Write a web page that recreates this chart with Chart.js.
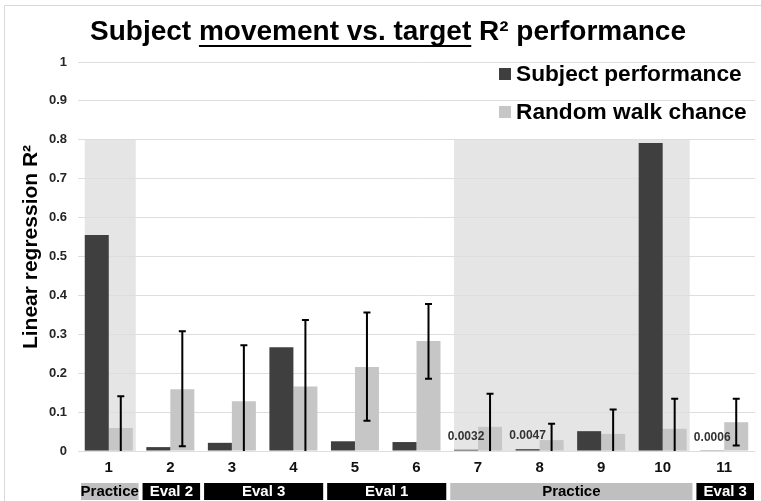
<!DOCTYPE html>
<html>
<head>
<meta charset="utf-8">
<script src="https://cdn.jsdelivr.net/npm/chart.js@4.4.1/dist/chart.umd.min.js"></script>
<style>
  html, body { margin: 0; padding: 0; background: #fff; overflow: hidden; }
</style>
</head>
<body>
<canvas id="myChart" width="761" height="501"></canvas>
<script>
// data
const categories = ['1', '2', '3', '4', '5', '6', '7', '8', '9', '10', '11'];
const subjectPerformance = [0.555, 0.010, 0.021, 0.267, 0.025, 0.023, 0.0032, 0.0047, 0.051, 0.792, 0.0006];
const randomWalkChance = [0.059, 0.159, 0.128, 0.166, 0.216, 0.283, 0.062, 0.028, 0.044, 0.057, 0.074];
const chanceUpper = [0.141, 0.308, 0.272, 0.337, 0.356, 0.378, 0.147, 0.070, 0.107, 0.134, 0.134];
const chanceLower = [-0.03, 0.012, -0.03, -0.03, 0.078, 0.186, -0.03, -0.03, -0.03, -0.03, 0.014];
const sessionNames = ['Practice', 'Eval 2', 'Eval 3', 'Eval 1', 'Practice', 'Eval 3'];
const sessionStart = [0, 1, 2, 4, 6, 10];
const sessionEnd = [0, 1, 3, 5, 9, 10];
const shadeTop = 0.8;
const yTicks = [0, 0.1, 0.2, 0.3, 0.4, 0.5, 0.6, 0.7, 0.8, 0.9, 1];

const darkColor = '#3f3f3f';
const lightColor = '#c6c6c6';
const FONT = '"Liberation Sans", Arial, sans-serif';

const extras = {
    id: 'extras',
    beforeDraw(c) {
        const { ctx, chartArea, scales: { x, y } } = c;
        ctx.save();
        // outer frame
        ctx.strokeStyle = '#d9d9d9';
        ctx.lineWidth = 1;
        ctx.strokeRect(4.5, 5.5, 900, 700);
        // shaded practice blocks
        ctx.fillStyle = '#e5e5e5';
        sessionNames.forEach((n, k) => {
            if (n !== 'Practice') return;
            const l = x.getPixelForValue(sessionStart[k]) - 24;
            const r = x.getPixelForValue(sessionEnd[k]) + 27;
            const t = y.getPixelForValue(shadeTop);
            ctx.fillRect(l, t, r - l, chartArea.bottom - t);
        });
        ctx.restore();
    },
    afterDatasetsDraw(c) {
        const { ctx, chartArea, scales: { y } } = c;
        const meta0 = c.getDatasetMeta(0);
        const meta1 = c.getDatasetMeta(1);
        ctx.save();
        ctx.beginPath();
        ctx.rect(chartArea.left, chartArea.top, chartArea.width, chartArea.height);
        ctx.clip();
        ctx.strokeStyle = '#000';
        ctx.lineWidth = 2;
        meta1.data.forEach((bar, i) => {
            const yt = y.getPixelForValue(chanceUpper[i]);
            const yb = y.getPixelForValue(chanceLower[i]);
            ctx.beginPath();
            ctx.moveTo(bar.x, yt);
            ctx.lineTo(bar.x, yb);
            ctx.moveTo(bar.x - 3.5, yt);
            ctx.lineTo(bar.x + 3.5, yt);
            ctx.moveTo(bar.x - 3.5, yb);
            ctx.lineTo(bar.x + 3.5, yb);
            ctx.stroke();
        });
        ctx.restore();
        // tiny value labels
        ctx.save();
        ctx.font = 'bold 12px ' + FONT;
        ctx.fillStyle = '#333';
        ctx.textAlign = 'center';
        ctx.textBaseline = 'middle';
        meta0.data.forEach((bar, i) => {
            if (subjectPerformance[i] < 0.005) {
                ctx.fillText(subjectPerformance[i].toFixed(4), bar.x, bar.y - 13);
            }
        });
        ctx.restore();
    },
    afterDraw(c) {
        const { ctx, scales: { x } } = c;
        ctx.save();

        // title with underlined middle part
        const parts = [
            { t: 'Subject ' },
            { t: 'movement vs. target', u: true },
            { t: ' R² performance' }
        ];
        ctx.font = 'bold 27px ' + FONT;
        ctx.fillStyle = '#000';
        ctx.textBaseline = 'alphabetic';
        ctx.textAlign = 'left';
        const widths = parts.map(p => ctx.measureText(p.t).width);
        const total = widths.reduce((a, b) => a + b, 0);
        const sx = 596 / total;
        ctx.save();
        ctx.translate(90, 0);
        ctx.scale(sx, 1);
        let px = 0;
        parts.forEach((p, k) => {
            ctx.fillText(p.t, px, 40);
            if (p.u) ctx.fillRect(px, 45, widths[k], 2);
            px += widths[k];
        });
        ctx.restore();

        // y axis title
        ctx.save();
        ctx.translate(37, 247);
        ctx.rotate(-Math.PI / 2);
        ctx.font = 'bold 21px ' + FONT;
        ctx.textAlign = 'center';
        ctx.fillText('Linear regression R²', 0, 0);
        ctx.restore();

        // legend
        ctx.font = 'bold 22.7px ' + FONT;
        ctx.textAlign = 'left';
        ctx.textBaseline = 'middle';
        c.data.datasets.forEach((ds, i) => {
            const ly = 74 + i * 38;
            ctx.fillStyle = ds.backgroundColor;
            ctx.fillRect(499, ly - 6, 12, 12);
            ctx.fillStyle = '#000';
            ctx.fillText(ds.label, 516, ly + 1);
        });

        // session boxes under the axis
        const catW = (x.right - x.left) / categories.length;
        ctx.font = 'bold 15px ' + FONT;
        ctx.textAlign = 'center';
        sessionNames.forEach((n, k) => {
            const l = x.getPixelForValue(sessionStart[k]) - catW / 2 + 3;
            const r = x.getPixelForValue(sessionEnd[k]) + catW / 2 - 1;
            const practice = n === 'Practice';
            ctx.fillStyle = practice ? '#bfbfbf' : '#000';
            ctx.fillRect(l, 483, r - l, 17);
            ctx.fillStyle = practice ? '#000' : '#fff';
            ctx.fillText(n, (l + r) / 2, 492);
        });
        ctx.restore();
    }
};

const ctx = document.getElementById('myChart').getContext('2d');

const chart = new Chart(ctx, {
    type: 'bar',
    data: {
        labels: categories,
        datasets: [
            {
                label: 'Subject performance',
                data: subjectPerformance,
                backgroundColor: darkColor,
                categoryPercentage: 0.78,
                barPercentage: 1
            },
            {
                label: 'Random walk chance',
                data: randomWalkChance,
                backgroundColor: lightColor,
                categoryPercentage: 0.78,
                barPercentage: 1
            }
        ]
    },
    options: {
        responsive: false,
        animation: false,
        layout: {
            padding: { top: 62, right: 6, left: 0, bottom: 0 }
        },
        scales: {
            y: {
                min: 0,
                max: 1,
                afterBuildTicks: (s) => { s.ticks = yTicks.map(v => ({ value: v })); },
                afterFit: (s) => { s.width = 78; },
                ticks: {
                    padding: 11,
                    color: '#262626',
                    font: { family: FONT, size: 13, weight: 'bold' },
                    callback: (v) => String(+v.toFixed(1))
                },
                grid: { color: '#dedede', lineWidth: 1, drawTicks: false },
                border: { display: false }
            },
            x: {
                afterFit: (s) => { s.height = 50; },
                ticks: {
                    padding: 8,
                    color: '#111',
                    font: { family: FONT, size: 15, weight: 'bold' }
                },
                grid: { display: false, drawTicks: false },
                border: { display: false }
            }
        },
        plugins: {
            legend: { display: false },
            title: { display: false },
            tooltip: { enabled: false }
        }
    },
    plugins: [extras]
});
</script>
</body>
</html>
